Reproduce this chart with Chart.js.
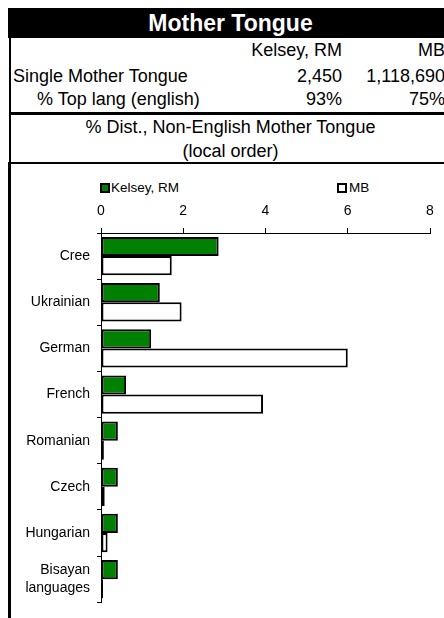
<!DOCTYPE html>
<html>
<head>
<meta charset="utf-8">
<script src="https://cdn.jsdelivr.net/npm/chart.js@4/dist/chart.umd.min.js"></script>
<style>
  html, body { margin: 0; padding: 0; background: #fff; }
  body { width: 444px; height: 618px; position: relative; overflow: hidden;
         font-family: "Liberation Sans", Arial, sans-serif; color: #000; }
  .abs { position: absolute; white-space: nowrap; }
  .row { font-size: 18px; line-height: 20px; }
  .box { position: absolute; width: 10px; height: 10px; box-sizing: border-box; border: 2px solid #000; }
  .leg { font-size: 13.5px; line-height: 16px; }
</style>
</head>
<body>
<div class="abs" id="title" style="left:8px;top:8px;width:445px;height:30px;background:#000;color:#fff;font-weight:bold;font-size:23px;line-height:30px;text-align:center;"></div>
<div class="abs" style="left:9px;top:38px;width:2px;height:125px;background:#000;"></div>
<div class="abs" style="left:8px;top:162px;width:3px;height:456px;background:#000;"></div>
<div class="abs" style="left:11px;top:112px;width:433px;height:3px;background:#000;"></div>
<div class="abs" style="left:11px;top:162px;width:433px;height:2px;background:#000;"></div>

<div class="abs row" id="colA" style="right:102px;top:40px;"></div>
<div class="abs row" id="colB" style="right:-1px;top:40px;"></div>
<div class="abs row" id="r1label" style="left:13px;top:66px;"></div>
<div class="abs row" id="r1a" style="right:102px;top:66px;"></div>
<div class="abs row" id="r1b" style="right:-1px;top:66px;"></div>
<div class="abs row" id="r2label" style="left:37px;top:89px;"></div>
<div class="abs row" id="r2a" style="right:102px;top:89px;"></div>
<div class="abs row" id="r2b" style="right:-1px;top:89px;"></div>
<div class="abs row" id="sub1" style="left:11px;width:439px;text-align:center;top:117px;"></div>
<div class="abs row" id="sub2" style="left:11px;width:439px;text-align:center;top:141px;"></div>

<div class="box" id="legBox0" style="left:100px;top:183px;background:#008000;"></div>
<div class="abs leg" id="legText0" style="left:111px;top:180px;"></div>
<div class="box" id="legBox1" style="left:337px;top:183px;background:#fff;"></div>
<div class="abs leg" id="legText1" style="left:349px;top:180px;"></div>

<div class="abs" style="left:11px;top:165px;width:433px;height:453px;">
  <canvas id="chart" width="433" height="453"></canvas>
</div>

<script>
// Textes du tableau
const titre = 'Mother Tongue';
const colonnes = ['Kelsey, RM', 'MB'];
const ligneMere = ['Single Mother Tongue', '2,450', '1,118,690'];
const ligneTop = ['% Top lang (english)', '93%', '75%'];
const sousTitre = ['% Dist., Non-English Mother Tongue', '(local order)'];

// Données du graphique
const langues = ['Cree', 'Ukrainian', 'German', 'French', 'Romanian', 'Czech', 'Hungarian', ['Bisayan', 'languages']];
const kelsey = [2.86, 1.43, 1.22, 0.61, 0.41, 0.41, 0.41, 0.41];
const mb = [1.72, 1.96, 6.0, 3.94, 0.07, 0.09, 0.16, 0.05];
const ticksX = [0, 2, 4, 6, 8];

const couleurs = ['#008000', '#ffffff'];

document.getElementById('title').textContent = titre;
document.getElementById('colA').textContent = colonnes[0];
document.getElementById('colB').textContent = colonnes[1];
document.getElementById('r1label').textContent = ligneMere[0];
document.getElementById('r1a').textContent = ligneMere[1];
document.getElementById('r1b').textContent = ligneMere[2];
document.getElementById('r2label').textContent = ligneTop[0];
document.getElementById('r2a').textContent = ligneTop[1];
document.getElementById('r2b').textContent = ligneTop[2];
document.getElementById('sub1').textContent = sousTitre[0];
document.getElementById('sub2').textContent = sousTitre[1];
document.getElementById('legText0').textContent = colonnes[0];
document.getElementById('legText1').textContent = colonnes[1];

const police = { family: '"Liberation Sans", Arial, sans-serif', size: 14 };

new Chart(document.getElementById('chart'), {
  type: 'bar',
  data: {
    labels: langues,
    datasets: [
      { label: colonnes[0], data: kelsey, backgroundColor: couleurs[0] },
      { label: colonnes[1], data: mb, backgroundColor: couleurs[1] }
    ]
  },
  options: {
    indexAxis: 'y',
    responsive: false,
    animation: false,
    layout: { padding: { top: 0, right: 14, bottom: 8, left: 0 } },
    datasets: {
      bar: {
        borderColor: '#000',
        borderWidth: 2,
        borderSkipped: false,
        categoryPercentage: 0.83,
        barPercentage: 1.0
      }
    },
    plugins: {
      legend: { display: false },
      tooltip: { enabled: false }
    },
    scales: {
      x: {
        position: 'top',
        min: ticksX[0],
        max: ticksX[ticksX.length - 1],
        afterBuildTicks: s => { s.ticks = ticksX.map(v => ({ value: v })); },
        afterFit: s => { s.height = 68; },
        grid: { drawOnChartArea: false, color: '#000', tickLength: 5 },
        border: { color: '#000', width: 1 },
        ticks: { color: '#000', font: police, padding: 8, maxRotation: 0 }
      },
      y: {
        afterFit: s => { s.width = 90; },
        grid: { drawOnChartArea: false, color: '#000', tickLength: 4 },
        border: { color: '#000', width: 1 },
        ticks: { color: '#000', font: { ...police, lineHeight: 1.25 }, padding: 7, autoSkip: false }
      }
    }
  }
});
</script>
</body>
</html>
